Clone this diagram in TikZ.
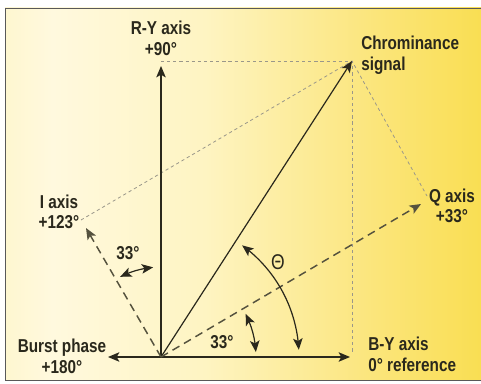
\documentclass[tikz,border=0pt]{standalone}
\usepackage{fontspec}
\setmainfont{Liberation Sans}[FakeStretch=0.82]
\usetikzlibrary{arrows.meta, bending}

\definecolor{inkdark}{HTML}{2A281C}
\definecolor{dashgray}{HTML}{55523E}
\definecolor{helpgray}{HTML}{9A978A}
\definecolor{paperA}{HTML}{F8DE6A}
\definecolor{paperB}{HTML}{FCEFA6}
\definecolor{paperC}{HTML}{FFF9DE}
\definecolor{paperD}{HTML}{FEF4C2}
\definecolor{paperE}{HTML}{FBE57A}
\definecolor{paperF}{HTML}{F8DA3A}
\definecolor{paperG}{HTML}{F5D21E}
\pgfdeclarehorizontalshading{paper}{100bp}{color(0bp)=(paperA); color(10bp)=(paperB);
  color(30bp)=(paperC); color(46bp)=(paperD); color(64bp)=(paperE);
  color(82bp)=(paperF); color(100bp)=(paperG)}

\begin{document}
\begin{tikzpicture}[
    x=0.75pt, y=-0.75pt,
    font=\fontsize{14}{15.5}\selectfont\bfseries,
    >={Stealth[length=3mm,width=2.5mm,inset=0.7mm,flex]},
    vec/.style={line width=0.9pt, draw=inkdark},
    qiaxis/.style={line width=1.1pt, draw=dashgray, dash pattern=on 6pt off 4pt},
    helper/.style={line width=0.6pt, draw=helpgray, dash pattern=on 2.4pt off 2.2pt},
    angarc/.style={line width=0.9pt, draw=inkdark, <->},
    lab/.style={align=center, inner sep=0pt, text=inkdark},
  ]
  \useasboundingbox (0,0) rectangle (481,384);
  %% ---- paper ---------------------------------------------------------
  \shade[shading=paper] (5,8) rectangle (481,380);
  \draw[gray!70!black, line width=0.7pt] (481,8) -- (5,8) -- (5,380) -- (481,380);

  %% ---- points --------------------------------------------------------
  \coordinate (O)  at (161,357);
  \coordinate (by) at (350,357);
  \coordinate (bp) at (108,357);
  \coordinate (ry) at (161,66);
  \coordinate (cs) at (352,61);
  \coordinate (ia) at (86,228);
  \coordinate (qa) at (421,204);
  \coordinate (ip) at (81,220);
  \coordinate (qp) at (427,196);
  \coordinate (rp) at (161,61);
  \coordinate (bf) at (352,354);

  %% ---- construction lines --------------------------------------------
  \draw[helper] (rp) -- (cs) -- (bf);
  \draw[helper] (ip) -- (cs) -- (qp);

  %% ---- axes ----------------------------------------------------------
  \draw[vec, ->] (O) -- (by);
  \draw[vec, ->] (O) -- (bp);
  \draw[vec, ->] (O) -- (ry);
  \draw[vec, ->] (O) -- (cs);
  \draw[qiaxis, ->] (O) -- (ia);
  \draw[qiaxis, ->] (O) -- (qa);

  %% ---- angles --------------------------------------------------------
  \path (O) ++(-117:90) coordinate (ir1);
  \draw[angarc] (ir1) arc[start angle=-117, end angle=-95, radius=90];
  \path (O) ++(-54:138) coordinate (th1);
  \draw[angarc] (th1) arc[start angle=-54, end angle=-3, radius=138];
  \path (O) ++(-27:95) coordinate (qb1);
  \draw[angarc] (qb1) arc[start angle=-27, end angle=-3, radius=95];

  %% ---- labels --------------------------------------------------------
  \node[lab] (rylab) at (161,38) {R-Y axis\\+90°};
  \node[lab, anchor=west, align=left] (cslab) at (361,55) {Chrominance\\signal};
  \node[lab] (ialab) at (59,212) {I axis\\+123°};
  \node[lab] (qalab) at (452,206) {Q axis\\+33°};
  \node[lab] (bplab) at (62,356) {Burst phase\\+180°};
  \node[lab, anchor=west, align=left] (bylab) at (368,354) {B-Y axis\\0° reference};
  \node[lab] (irlab) at (128,253) {33°};
  \node[lab, font=\fontsize{16}{18}\selectfont] (thlab) at (278,262) {Θ};
  \node[lab] (qblab) at (222,342) {33°};
\end{tikzpicture}
\end{document}
